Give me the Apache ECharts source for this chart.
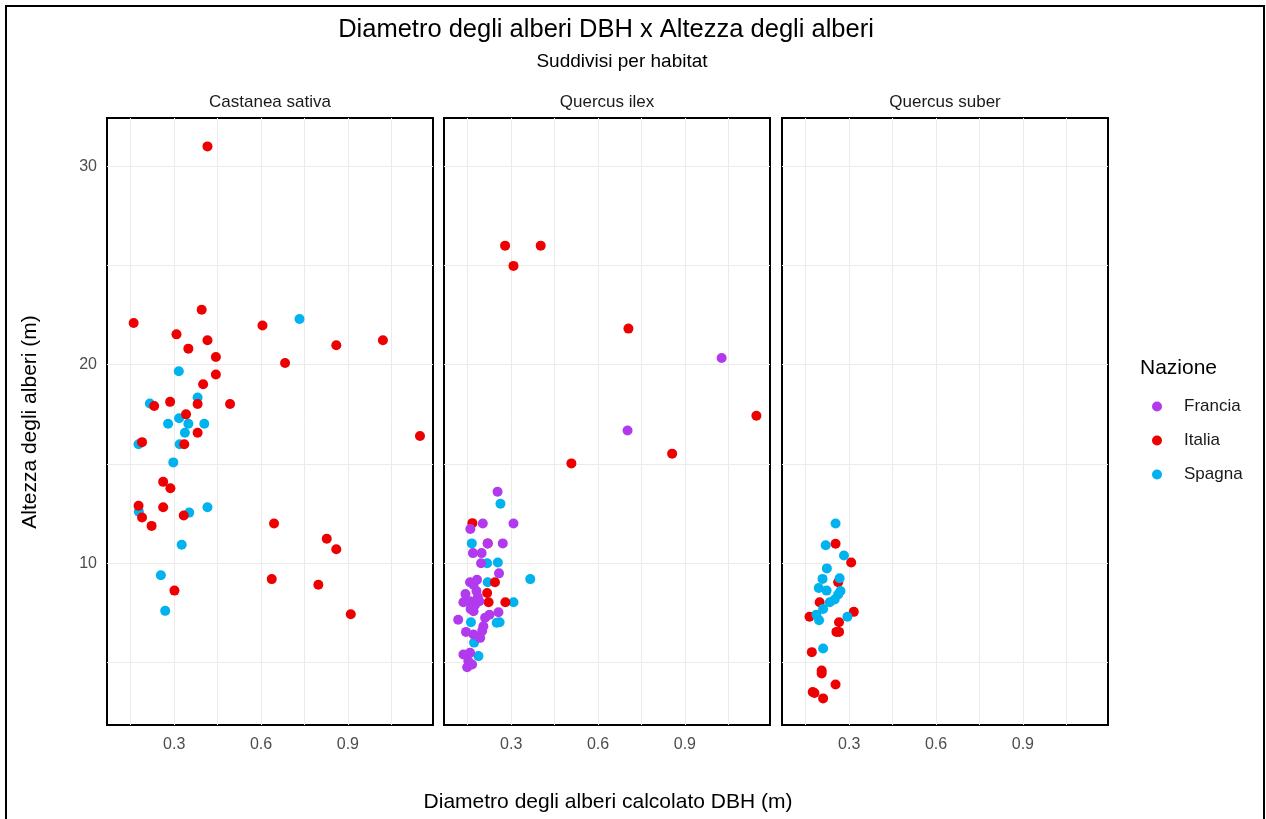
<!DOCTYPE html>
<html>
<head>
<meta charset="utf-8">
<script src="https://cdn.jsdelivr.net/npm/echarts@6/dist/echarts.min.js"></script>
<style>html,body{margin:0;padding:0;background:#fff}#chart{width:1266px;height:819px}</style>
</head>
<body>
<div id="chart"></div>
<script>
// ---- data ----
const panels = ['Castanea sativa', 'Quercus ilex', 'Quercus suber'];
const nations = ['Francia', 'Italia', 'Spagna'];
const xLabelTicks = [0.3, 0.6, 0.9];
const xGridTicks = [0.15, 0.3, 0.45, 0.6, 0.75, 0.9, 1.05];
const yLabelTicks = [10, 20, 30];
const yGridTicks = [5, 10, 15, 20, 25, 30];

// Castanea sativa
const castItaliaDBH = [0.415,0.395,0.160,0.605,0.308,0.415,0.86,1.021,0.349,0.444,0.683,0.444,0.40,0.381,0.493,0.286,0.231,0.341,0.381,0.189,0.335,1.149,0.262,0.287,0.177,0.262,0.333,0.189,0.222,0.645,0.827,0.86,0.637,0.798,0.301,0.91];
const castItaliaH   = [31.0,22.77,22.1,21.98,21.53,21.23,20.98,21.23,20.81,20.39,20.09,19.51,19.02,18.02,18.02,18.13,17.92,17.5,16.57,16.1,15.99,16.41,14.1,13.78,12.9,12.82,12.4,12.3,11.88,12.0,11.23,10.7,9.2,8.92,8.62,7.43];
const castSpagnaDBH = [0.733,0.316,0.381,0.216,0.317,0.279,0.349,0.404,0.337,0.177,0.319,0.297,0.178,0.415,0.352,0.326,0.254,0.269];
const castSpagnaH   = [22.3,19.67,18.35,18.05,17.3,17.03,17.03,17.03,16.57,15.99,15.99,15.08,12.6,12.82,12.55,10.93,9.39,7.6];

// Quercus ilex
const ilexItaliaDBH = [0.279,0.402,0.308,0.705,1.147,0.856,0.508,0.166,0.219,0.244,0.217,0.222,0.28];
const ilexItaliaH   = [26.0,26.0,24.98,21.82,17.43,15.52,15.03,12.02,11.0,9.04,8.5,8.03,8.03];
const ilexFranciaDBH = [1.027,0.702,0.253,0.202,0.308,0.159,0.219,0.271,0.168,0.198,0.196,0.258,0.158,0.182,0.17,0.142,0.185,0.135,0.158,0.19,0.17,0.256,0.117,0.21,0.225,0.204,0.144,0.17,0.193,0.135,0.158,0.152,0.148,0.165,0.175,0.16,0.2,0.18];
const ilexFranciaH   = [20.34,16.69,13.6,12.0,12.0,11.72,11.0,11.0,10.51,10.51,10.0,9.49,9.04,9.17,8.92,8.45,8.3,8.03,8.08,8.08,7.58,7.53,7.15,7.25,7.4,6.82,6.54,6.41,6.24,5.4,5.49,5.07,4.76,4.9,7.9,7.7,6.6,8.6];
const ilexSpagnaDBH = [0.263,0.164,0.217,0.254,0.366,0.219,0.308,0.161,0.25,0.26,0.172,0.187];
const ilexSpagnaH   = [13.0,11.0,10.0,10.04,9.2,9.04,8.03,7.03,7.0,7.03,6.0,5.32];

// Quercus suber
const suberItaliaDBH = [0.253,0.307,0.262,0.198,0.163,0.316,0.265,0.256,0.265,0.171,0.205,0.205,0.253,0.174,0.18,0.21];
const suberItaliaH   = [10.98,10.04,9.04,8.03,7.3,7.55,7.03,6.54,6.54,5.52,4.6,4.45,3.89,3.51,3.46,3.19];
const suberSpagnaDBH = [0.253,0.219,0.282,0.223,0.208,0.267,0.195,0.222,0.262,0.25,0.233,0.21,0.187,0.196,0.294,0.21,0.27];
const suberSpagnaH   = [12.0,10.91,10.39,9.74,9.21,9.24,8.75,8.62,8.42,8.17,8.03,7.7,7.41,7.13,7.3,5.7,8.6];

// ---- styling ----
const FONT = '"Liberation Sans", Arial, sans-serif';
const colorOf = { Francia: '#b23aee', Italia: '#ee0000', Spagna: '#00b2ee' };
const gridLefts = [107, 444, 782];
const GRID_W = 326, GRID_TOP = 118, GRID_BOTTOM = 94;
const X_MIN = 0.068, X_MAX = 1.194, Y_MIN = 1.85, Y_MAX = 32.43;

function pts(xs, ys) { return xs.map((x, i) => [x, ys[i]]); }

const panelSeries = [
  [['Spagna', castSpagnaDBH, castSpagnaH], ['Italia', castItaliaDBH, castItaliaH]],
  [['Spagna', ilexSpagnaDBH, ilexSpagnaH], ['Italia', ilexItaliaDBH, ilexItaliaH], ['Francia', ilexFranciaDBH, ilexFranciaH]],
  [['Italia', suberItaliaDBH, suberItaliaH], ['Spagna', suberSpagnaDBH, suberSpagnaH]]
];

const grids = [], xAxes = [], yAxes = [], series = [];
panels.forEach((p, i) => {
  grids.push({ left: gridLefts[i], width: GRID_W, top: GRID_TOP, bottom: GRID_BOTTOM,
    show: true, borderColor: '#000', borderWidth: 2, backgroundColor: 'transparent' });
  xAxes.push({ type: 'value', gridIndex: i, min: X_MIN, max: X_MAX,
    axisLine: { show: false }, axisTick: { show: false, customValues: xGridTicks },
    splitLine: { show: true, lineStyle: { color: '#ebebeb', width: 1 } },
    axisLabel: { customValues: xLabelTicks, color: '#4d4d4d', fontSize: 16, fontFamily: FONT, margin: 12,
      formatter: v => String(v) } });
  yAxes.push({ type: 'value', gridIndex: i, min: Y_MIN, max: Y_MAX,
    axisLine: { show: false }, axisTick: { show: false, customValues: yGridTicks },
    splitLine: { show: true, lineStyle: { color: '#ebebeb', width: 1 } },
    axisLabel: { show: i === 0, customValues: yLabelTicks, color: '#4d4d4d', fontSize: 16, fontFamily: FONT, margin: 10 } });
  panelSeries[i].forEach(([name, xs, ys]) => {
    series.push({ type: 'scatter', name, xAxisIndex: i, yAxisIndex: i,
      symbol: 'circle', symbolSize: 10, itemStyle: { color: colorOf[name], opacity: 1 },
      data: pts(xs, ys), silent: true, animation: false });
  });
});

const txt = (text, x, y, size, color, align, extra) => Object.assign({
  type: 'text', x, y, silent: true,
  style: { text, fill: color || '#000', font: size + 'px ' + FONT, textAlign: align || 'center', textVerticalAlign: 'middle' }
}, extra || {});

const chart = echarts.init(document.getElementById('chart'), null, { renderer: 'canvas' });
chart.setOption({
  animation: false,
  backgroundColor: '#fff',
  grid: grids, xAxis: xAxes, yAxis: yAxes, series,
  legend: {
    data: nations, orient: 'vertical', left: 1147, top: 393,
    icon: 'circle', itemWidth: 30, itemHeight: 10, itemGap: 17,
    textStyle: { fontSize: 17, fontFamily: FONT, color: '#1a1a1a', padding: [0, 0, 0, 7] },
    selectedMode: false
  },
  graphic: [
    { type: 'rect', shape: { x: 6, y: 6, width: 1258, height: 840 }, style: { fill: 'none', stroke: '#000', lineWidth: 2 }, silent: true },
    txt('Diametro degli alberi DBH x Altezza degli alberi', 606, 30, 25.5, '#000'),
    txt('Suddivisi per habitat', 622, 62, 19, '#000'),
    txt(panels[0], 270, 102, 17, '#1a1a1a'),
    txt(panels[1], 607, 102, 17, '#1a1a1a'),
    txt(panels[2], 945, 102, 17, '#1a1a1a'),
    txt('Diametro degli alberi calcolato DBH (m)', 608, 802, 21, '#000'),
    txt('Altezza degli alberi (m)', 30, 422, 21, '#000', 'center', { rotation: Math.PI / 2 }),
    txt('Nazione', 1140, 368, 21, '#000', 'left')
  ]
});
</script>
</body>
</html>
